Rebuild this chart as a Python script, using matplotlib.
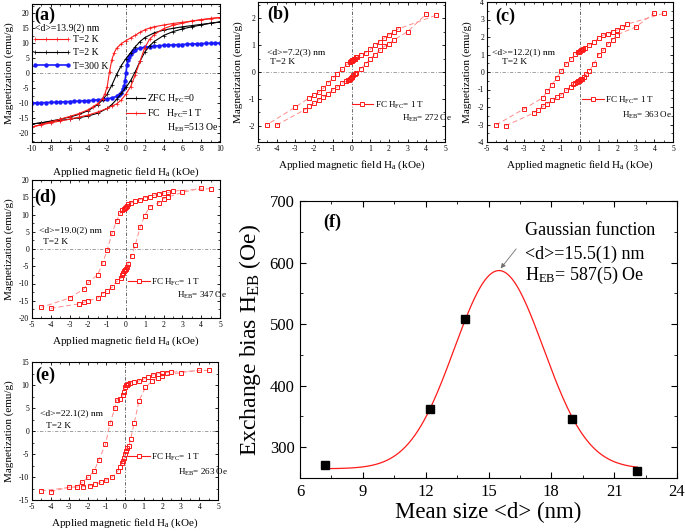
import matplotlib
matplotlib.use('Agg')
import matplotlib.pyplot as plt
import numpy as np
from matplotlib.lines import Line2D
from matplotlib.ticker import MultipleLocator

plt.rcParams['font.family'] = ['Liberation Serif', 'DejaVu Serif']
plt.rcParams['mathtext.fontset'] = 'custom'
plt.rcParams['mathtext.rm'] = 'Liberation Serif'
plt.rcParams['mathtext.it'] = 'Liberation Serif:italic'
plt.rcParams['axes.unicode_minus'] = False
plt.rcParams['axes.linewidth'] = 0.8

RED = '#ff1a1a'
FIT = '#ff8c8c'

# ---- (a) d=13.9 nm, full loops at 2 K (FC, ZFC) and 300 K
a_fc_up_h = [10, 9, 8, 7, 6, 5, 4, 3, 2.5, 2, 1.5, 1, 0.5, 0, -0.5, -1, -1.25, -1.5, -1.75, -2,
             -2.25, -2.5, -3, -3.5, -4, -5, -6, -7, -8, -9, -10]
a_fc_up_m = [18.5, 18.1, 17.7, 17.3, 16.9, 16.5, 16.0, 15.4, 15.0, 14.4, 13.6, 12.6, 11.7, 10.8, 9.8, 8.2,
             6.8, 4.5, 0.5, -4.5, -7.0, -8.5, -10.2, -11.2, -12.2, -13.5, -14.5, -15.4, -16.3, -17.1, -18.0]
a_fc_lo_h = [-10, -9, -8, -7, -6, -5, -4, -3, -2, -1.5, -1, -0.5, 0, 0.5, 1, 1.5, 2, 2.5, 3, 4, 5, 6,
             7, 8, 9, 10]
a_fc_lo_m = [-18.0, -17.3, -16.6, -16.0, -15.4, -14.7, -14.0, -13.0, -11.8, -11.0, -10.3, -9.0, -7.0, -4.5,
             -0.5, 4.0, 8.5, 11.2, 12.8, 14.8, 15.9, 16.6, 17.3, 17.8, 18.2, 18.5]
a_zfc_up_h = [10, 9, 8, 7, 6, 5, 4, 3, 2, 1.5, 1, 0.5, 0, -0.5, -1, -1.5, -2, -2.5, -3, -4, -5, -6,
              -7, -8, -9, -10]
a_zfc_up_m = [17.0, 16.6, 16.2, 15.8, 15.4, 14.9, 14.3, 13.4, 11.8, 10.5, 8.8, 6.8, 4.8, 2.5, -0.5, -4.0,
              -7.0, -9.0, -10.5, -12.5, -13.8, -14.7, -15.4, -16.0, -16.6, -17.0]
a_zfc_lo_h = [-10, -9, -8, -7, -6, -5, -4, -3, -2, -1.5, -1, -0.5, 0, 0.5, 1, 1.5, 2, 2.5, 3, 4, 5, 6,
              7, 8, 9, 10]
a_zfc_lo_m = [-17.0, -16.6, -16.2, -15.8, -15.4, -14.9, -14.3, -13.4, -11.8, -10.5, -8.8, -6.8, -4.8,
              -2.5, 0.5, 4.0, 7.0, 9.0, 10.5, 12.5, 13.8, 14.7, 15.4, 16.0, 16.6, 17.0]
a_300_h = [-10, -9.5, -9, -8.5, -8, -7.5, -7, -6.5, -6, -5.5, -5, -4.5, -4, -3.5, -3, -2.5, -2, -1.5,
           -1, -0.75, -0.5, -0.3, -0.2, -0.1, 0, 0.1, 0.2, 0.3, 0.5, 0.75, 1, 1.5, 2, 2.5, 3, 3.5, 4,
           4.5, 5, 5.5, 6, 6.5, 7, 7.5, 8, 8.5, 9, 9.5, 10]
a_300_m = [-10.0, -9.95, -9.9, -9.85, -9.8, -9.75, -9.65, -9.6, -9.5, -9.45, -9.35, -9.3, -9.2, -9.1,
           -8.95, -8.8, -8.6, -8.3, -7.8, -7.3, -6.5, -5.3, -4.3, -2.6, 0.0, 2.6, 4.3, 5.3, 6.5, 7.3,
           7.8, 8.3, 8.6, 8.8, 8.95, 9.1, 9.2, 9.3, 9.35, 9.45, 9.5, 9.6, 9.65, 9.75, 9.8, 9.85, 9.9,
           9.95, 10.0]

# ---- (b) d=7.2 nm
b_up_h = [4.5, 2.5, 2.25, 2.0, 1.75, 1.5, 1.25, 1.0, 0.75, 0.5, 0.3, 0.25, 0.2, 0.15, 0.1, 0.05, 0.0,
          -0.05, -0.1, -0.25, -0.5, -0.75, -1.0, -1.25, -1.5, -1.75, -2.0, -2.25, -3.0, -4.5]
b_up_m = [2.1, 1.6, 1.5, 1.38, 1.26, 1.12, 0.99, 0.84, 0.72, 0.64, 0.56, 0.54, 0.5, 0.48, 0.46, 0.44,
          0.42, 0.4, 0.37, 0.28, 0.1, -0.06, -0.23, -0.4, -0.6, -0.75, -0.85, -0.96, -1.3, -1.95]
b_lo_h = [-4.0, -2.5, -2.25, -2.0, -1.75, -1.5, -1.25, -1.0, -0.75, -0.5, -0.3, -0.2, -0.15, -0.1, -0.05,
          0.0, 0.05, 0.1, 0.2, 0.25, 0.5, 0.75, 1.0, 1.25, 1.5, 1.75, 2.0, 2.25, 3.0, 4.0]
b_lo_m = [-1.97, -1.4, -1.28, -1.15, -1.03, -0.92, -0.8, -0.66, -0.55, -0.42, -0.35, -0.31, -0.29, -0.26,
          -0.23, -0.2, -0.17, -0.12, -0.06, -0.03, 0.13, 0.3, 0.48, 0.65, 0.8, 0.95, 1.05, 1.18, 1.5, 2.15]

# ---- (c) d=12.2 nm
c_up_h = [4.5, 2.5, 2.25, 2.0, 1.75, 1.5, 1.25, 1.0, 0.75, 0.5, 0.25, 0.15, 0.1, 0.05, 0.0, -0.05, -0.1,
          -0.25, -0.5, -0.75, -1.0, -1.25, -1.5, -1.75, -2.0, -3.0, -4.5]
c_up_m = [3.35, 2.72, 2.55, 2.4, 2.3, 2.2, 2.1, 1.94, 1.72, 1.55, 1.39, 1.3, 1.27, 1.24, 1.2, 1.16, 1.12,
          1.03, 0.72, 0.46, 0.05, -0.32, -0.72, -1.1, -1.47, -2.1, -3.02]
c_lo_h = [-4.0, -2.5, -2.25, -2.0, -1.75, -1.5, -1.25, -1.0, -0.75, -0.5, -0.35, -0.25, -0.15, -0.1,
          -0.05, 0.0, 0.05, 0.1, 0.2, 0.3, 0.5, 0.75, 1.0, 1.25, 1.5, 1.75, 2.0, 3.0, 4.0]
c_lo_m = [-3.07, -2.35, -2.15, -1.97, -1.8, -1.6, -1.45, -1.3, -1.05, -0.83, -0.67, -0.6, -0.55, -0.52,
          -0.49, -0.46, -0.42, -0.38, -0.28, -0.13, 0.06, 0.48, 1.0, 1.25, 1.6, 1.85, 2.13, 2.57, 3.38]

# ---- (d) d=19.0 nm
d_up_h = [4.5, 2.5, 2.25, 2.0, 1.75, 1.5, 1.25, 1.0, 0.75, 0.5, 0.25, 0.1, 0.05, 0.0, -0.05, -0.1, -0.2,
          -0.3, -0.5, -0.75, -1.0, -1.25, -1.5, -2.0, -2.25, -3.0, -4.5]
d_up_m = [17.5, 16.8, 16.4, 16.2, 16.0, 15.6, 15.2, 14.9, 14.3, 13.8, 13.3, 12.9, 12.6, 12.3, 12.0, 11.7,
          11.2, 10.4, 8.2, 4.5, -0.3, -4.2, -7.4, -9.7, -11.6, -14.2, -16.9]
d_lo_h = [-4.0, -2.5, -2.25, -2.0, -1.5, -1.25, -1.0, -0.75, -0.5, -0.25, -0.2, -0.15, -0.1, -0.05, 0.0,
          0.05, 0.1, 0.3, 0.5, 0.75, 1.0, 1.25, 1.75, 2.0, 2.25, 3.0, 4.0]
d_lo_m = [-17.2, -15.9, -15.5, -15.0, -14.2, -13.0, -12.1, -11.1, -9.4, -8.4, -7.5, -7.0, -6.5, -6.1,
          -5.8, -5.2, -4.4, -1.9, 1.3, 6.3, 9.7, 12.2, 13.4, 14.6, 15.1, 16.4, 17.7]

# ---- (e) d=22.1 nm
e_up_h = [4.5, 2.5, 2.25, 2.0, 1.75, 1.5, 1.25, 1.0, 0.75, 0.5, 0.25, 0.15, 0.1, 0.05, 0.0, -0.05, -0.1,
          -0.25, -0.45, -0.55, -0.8, -1.05, -1.4, -1.65, -2.0, -2.3, -2.6, -4.5]
e_up_m = [13.2, 12.8, 12.7, 12.6, 12.4, 12.2, 11.8, 11.3, 10.9, 10.6, 10.4, 10.3, 10.1, 9.9, 9.5, 8.5, 7.8,
          7.0, 6.7, 4.9, 1.7, -2.9, -6.2, -8.6, -10.1, -11.1, -12.1, -13.0]
e_lo_h = [-4.0, -3.0, -2.6, -2.25, -1.9, -1.6, -1.3, -1.0, -0.7, -0.4, -0.25, -0.15, -0.1, -0.05, 0.0,
          0.05, 0.1, 0.2, 0.3, 0.5, 0.75, 1.1, 1.45, 1.75, 2.0, 3.0, 4.0]
e_lo_m = [-13.2, -12.2, -12.2, -12.1, -11.9, -11.6, -11.1, -10.6, -10.0, -8.8, -7.8, -7.0, -6.5, -5.8,
          -5.0, -4.3, -3.7, -3.3, -1.8, 1.8, 6.5, 9.5, 10.8, 11.6, 12.0, 12.7, 13.2]

# ---- (f) exchange bias vs mean size
f_size = [7.2, 12.2, 13.9, 19.0, 22.1]
f_heb = [271, 362, 508, 346, 262]
g_y0, g_amp, g_xc, g_w = 265.0, 322.0, 15.5, 2.13   # Gaussian fit parameters

fig = plt.figure(figsize=(6.85, 5.31), dpi=100)
W, H = 685.0, 531.0


def box(l, t, r, b):
    return [l / W, 1 - b / H, (r - l) / W, (b - t) / H]


def style(ax, xlim, ylim, xs, ys, fs=5.5):
    ax.set_xlim(xlim)
    ax.set_ylim(ylim)
    ax.xaxis.set_major_locator(MultipleLocator(xs))
    ax.yaxis.set_major_locator(MultipleLocator(ys))
    ax.xaxis.set_minor_locator(MultipleLocator(xs / 2))
    ax.yaxis.set_minor_locator(MultipleLocator(ys / 2))
    ax.tick_params(which='both', direction='in', top=True, right=True, labelsize=fs, pad=2)
    ax.tick_params(which='major', length=2.5, width=0.6)
    ax.tick_params(which='minor', length=1.5, width=0.5)


def zero_lines(ax):
    ax.axhline(0, color='#909090', lw=0.6, ls=(0, (4, 2, 1, 2)), zorder=0)
    ax.axvline(0, color='#505050', lw=0.6, ls=(0, (4, 2, 1, 2)), zorder=0)


def small_labels(ax, ylab_pad):
    ax.set_xlabel('Applied magnetic field H$_{\\rm a}$ (kOe)', fontsize=8, labelpad=4)
    ax.set_ylabel('Magnetization (emu/g)', fontsize=8, labelpad=ylab_pad)


def loop_panel(ax, uh, um, lh, lm, info, heb, tag, pos):
    zero_lines(ax)
    ax.plot(uh, um, color=FIT, lw=0.7, ls=(0, (5, 3)))
    ax.plot(lh, lm, color=FIT, lw=0.7, ls=(0, (5, 3)))
    ax.plot(uh, um, 's', mfc='none', mec=RED, ms=3.2, mew=0.7)
    ax.plot(lh, lm, 's', mfc='none', mec=RED, ms=3.2, mew=0.7)
    proxy = Line2D([], [], color=RED, lw=0.8, marker='s', mfc='white', mec=RED, ms=3.2, mew=0.7)
    ax.legend([proxy], ['FC H$_{\\rm FC}$= 1 T'], loc='center left', bbox_to_anchor=pos['leg'],
              frameon=False, fontsize=6.5, handlelength=2.4, handletextpad=0.2,
              borderpad=0, borderaxespad=0)
    ax.text(*pos['heb'], 'H$_{\\rm EB}$= %d Oe' % heb, transform=ax.transAxes, fontsize=6.5,
            va='center', ha='left')
    ax.text(*pos['d'], info, transform=ax.transAxes, fontsize=6.8, va='center', ha='left')
    ax.text(*pos['t'], 'T=2 K', transform=ax.transAxes, fontsize=6.8, va='center', ha='left')
    ax.text(*pos['tag'], tag, transform=ax.transAxes, fontsize=13, fontweight='bold',
            va='center', ha='left')


# (a)
ax = fig.add_axes(box(32, 4, 220, 142))
style(ax, (-10, 10), (-23, 23), 2, 5)
zero_lines(ax)
ln_300, = ax.plot(a_300_h, a_300_m, color='#1a1aff', lw=1.2, marker='o', ms=2.2)
ax.plot(a_zfc_up_h, a_zfc_up_m, color='black', lw=0.8, marker='+', ms=2.5, mew=0.5)
ln_zfc, = ax.plot(a_zfc_lo_h, a_zfc_lo_m, color='black', lw=0.8, marker='+', ms=2.5, mew=0.5)
ax.plot(a_fc_up_h, a_fc_up_m, color=RED, lw=0.8, marker='+', ms=2.5, mew=0.5)
ln_fc, = ax.plot(a_fc_lo_h, a_fc_lo_m, color=RED, lw=0.8, marker='+', ms=2.5, mew=0.5)
leg1 = ax.legend([ln_fc, ln_zfc, ln_300], ['T=2 K', 'T=2 K', 'T=300 K'], loc='upper left',
                 bbox_to_anchor=(0.0, 0.775), frameon=False, fontsize=7, handlelength=4.0,
                 handletextpad=0.2, labelspacing=0.45, borderpad=0, borderaxespad=0, numpoints=4)
ax.add_artist(leg1)
ax.legend([ln_zfc, ln_fc], ['ZFC H$_{\\rm FC}$=0', 'FC   H$_{\\rm FC}$=1 T'], loc='upper left',
          bbox_to_anchor=(0.5, 0.36), frameon=False, fontsize=7, handlelength=2.0,
          handletextpad=0.2, labelspacing=0.25, borderpad=0, borderaxespad=0)
ax.text(0.72, 0.10, 'H$_{\\rm EB}$=513 Oe', transform=ax.transAxes, fontsize=7, va='center')
ax.text(0.016, 0.826, '<d>=13.9(2) nm', transform=ax.transAxes, fontsize=7, va='center')
ax.text(0.01, 0.92, '(a)', transform=ax.transAxes, fontsize=13, fontweight='bold', va='center')
ax.set_xlabel('Applied magnetic field H$_{\\rm a}$ (kOe)', fontsize=8, labelpad=9)
ax.set_ylabel('Magnetization (emu/g)', fontsize=8, labelpad=4)

# (b)
ax = fig.add_axes(box(258, 2, 445, 142))
style(ax, (-5, 5), (-2.6, 2.6), 1, 1)
loop_panel(ax, b_up_h, b_up_m, b_lo_h, b_lo_m, '<d>=7.2(3) nm', 272, '(b)',
           {'leg': (0.50, 0.264), 'heb': (0.77, 0.171), 'd': (0.048, 0.643), 't': (0.064, 0.571),
            'tag': (0.05, 0.915)})
small_labels(ax, 4)

# (c)
ax = fig.add_axes(box(487, 2, 673, 142))
style(ax, (-5, 5), (-4, 4), 1, 1)
loop_panel(ax, c_up_h, c_up_m, c_lo_h, c_lo_m, '<d>=12.2(1) nm', 363, '(c)',
           {'leg': (0.51, 0.30), 'heb': (0.726, 0.193), 'd': (0.027, 0.643), 't': (0.08, 0.571),
            'tag': (0.043, 0.9)})
small_labels(ax, 4)

# (d)
ax = fig.add_axes(box(32, 180, 220, 318))
style(ax, (-5, 5), (-20, 20), 1, 5)
loop_panel(ax, d_up_h, d_up_m, d_lo_h, d_lo_m, '<d>=19.0(2) nm', 347, '(d)',
           {'leg': (0.51, 0.261), 'heb': (0.771, 0.167), 'd': (0.037, 0.638), 't': (0.059, 0.551),
            'tag': (0.01, 0.877)})
small_labels(ax, 4)

# (e)
ax = fig.add_axes(box(32, 362, 218, 500))
style(ax, (-5, 5), (-15, 15), 1, 5)
loop_panel(ax, e_up_h, e_up_m, e_lo_h, e_lo_m, '<d>=22.1(2) nm', 263, '(e)',
           {'leg': (0.516, 0.312), 'heb': (0.785, 0.203), 'd': (0.043, 0.63), 't': (0.075, 0.536),
            'tag': (0.016, 0.906)})
small_labels(ax, 4)

# (f)
ax = fig.add_axes(box(300, 201, 677, 478))
style(ax, (6, 24), (250, 700), 3, 100, fs=12)
ax.tick_params(which='major', length=4, width=0.8, pad=4)
ax.tick_params(which='minor', length=2.5, width=0.6)
xs = np.linspace(f_size[0], f_size[-1], 300)
ax.plot(xs, g_y0 + g_amp * np.exp(-(xs - g_xc) ** 2 / (2 * g_w ** 2)), color=RED, lw=0.9)
ax.plot(f_size, f_heb, 's', color='black', ms=5.5)
ax.annotate('', xy=(g_xc, g_y0 + g_amp), xytext=(0.578, 0.835), textcoords='axes fraction',
            arrowprops=dict(arrowstyle='-|>', color='#707070', lw=0.6, mutation_scale=7))
ax.text(0.597, 0.895, 'Gaussian function', transform=ax.transAxes, fontsize=13, va='center')
ax.text(0.597, 0.809, '<d>=15.5(1) nm', transform=ax.transAxes, fontsize=13, va='center')
ax.text(0.597, 0.733, 'H$_{\\rm EB}$= 587(5) Oe', transform=ax.transAxes, fontsize=13, va='center')
ax.text(0.061, 0.924, '(f)', transform=ax.transAxes, fontsize=13, fontweight='bold', va='center')
ax.set_xlabel('Mean size <d> (nm)', fontsize=16.5, labelpad=2)
ax.set_ylabel('Exchange bias H$_{\\rm EB}$ (Oe)', fontsize=17, labelpad=5)

fig.savefig('out.png', dpi=100)
